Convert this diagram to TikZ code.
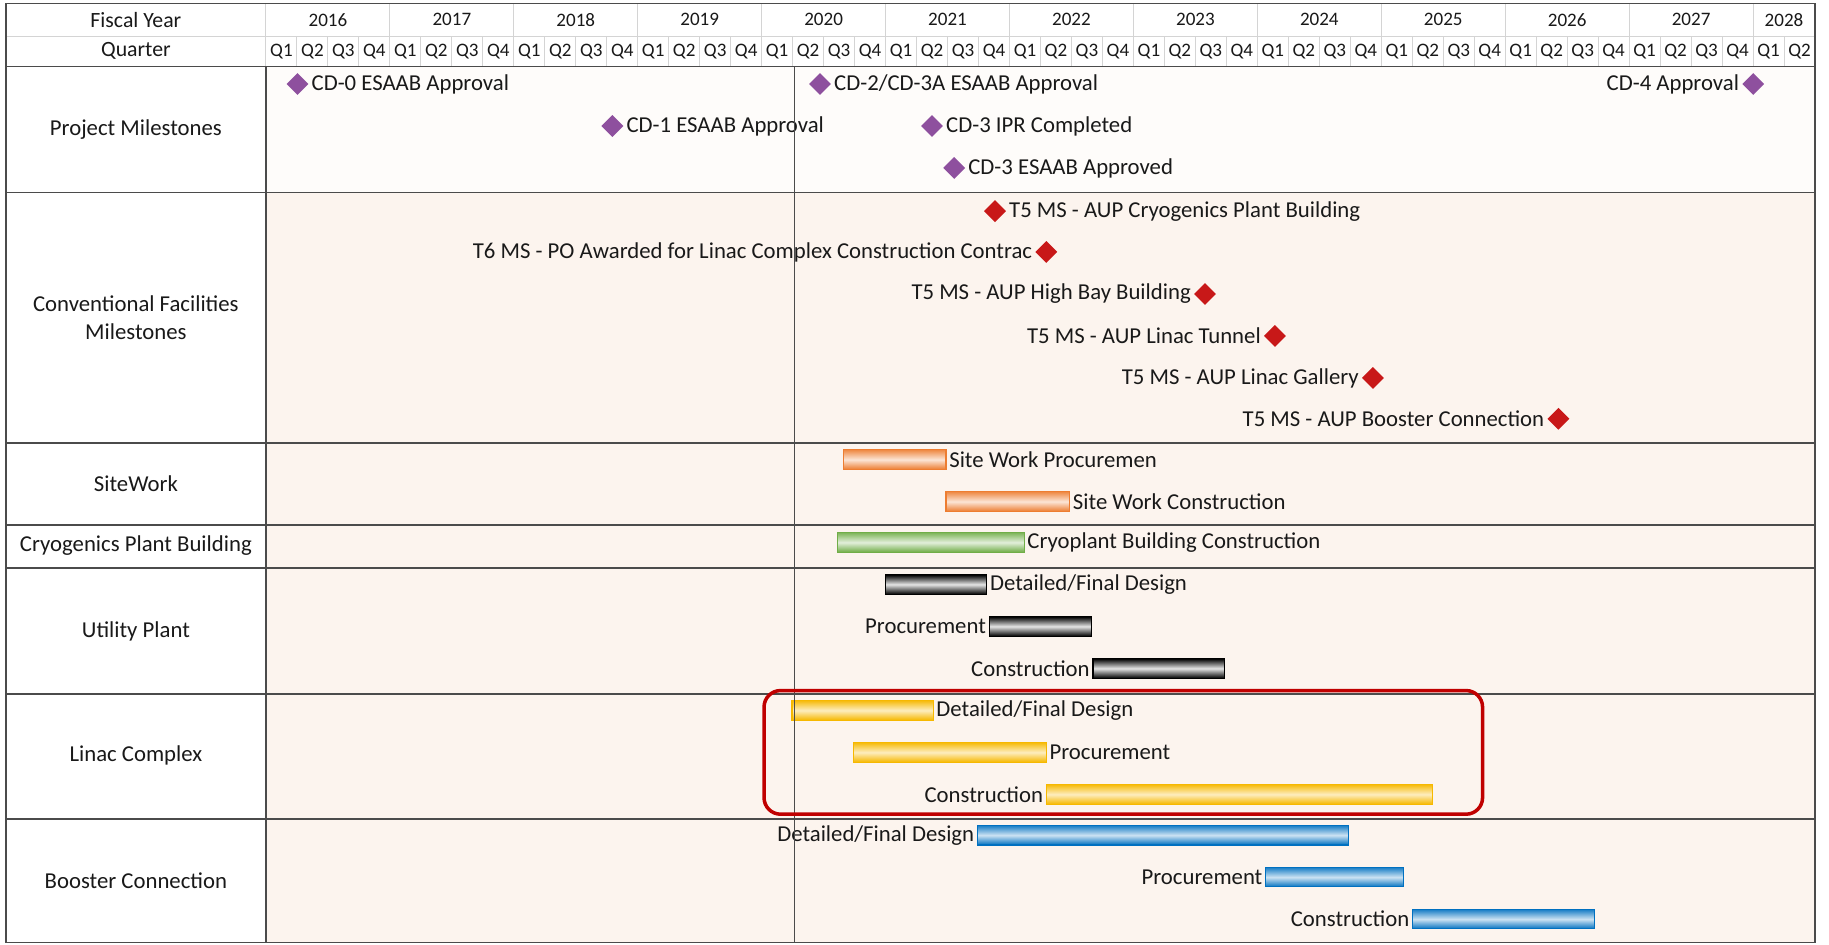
\documentclass[tikz,border=0pt]{standalone}
\usepackage{fontspec}
\setmainfont{Carlito}
\usetikzlibrary{shapes.geometric}
\definecolor{txt}{RGB}{25,25,25}
\definecolor{pm}{RGB}{142,80,158}
\definecolor{cm}{RGB}{200,24,24}
\definecolor{orB}{RGB}{237,125,49}
\definecolor{grB}{RGB}{112,173,71}
\definecolor{yeB}{RGB}{246,184,0}
\definecolor{blB}{RGB}{0,112,192}
\definecolor{hlr}{RGB}{192,0,0}
\definecolor{gdark}{RGB}{75,75,75}
\definecolor{glight}{RGB}{212,212,212}
\definecolor{bgp}{RGB}{252,244,238}
\definecolor{bgw}{RGB}{254,252,250}
\begin{document}
\begin{tikzpicture}[x=0.6pt,y=-0.6pt,
  every node/.style={font=\fontsize{11.7}{14.4}\selectfont, text=txt},
  hdr/.style={font=\fontsize{9.8}{11}\selectfont},
  hdrl/.style={font=\fontsize{11.2}{13}\selectfont},
  rowlbl/.style={align=center},
  pmile/.style={diamond, minimum width=11.4pt, minimum height=11.4pt, inner sep=0pt, fill=pm},
  cmile/.style={diamond, minimum width=11.4pt, minimum height=11.4pt, inner sep=0pt, fill=cm},
  gbar/.style={rectangle, inner sep=0pt, minimum height=10pt, line width=0.6pt},
  obar/.style={gbar, draw=orB, top color=orB!90, bottom color=orB, middle color=orB!20},
  gnbar/.style={gbar, draw=grB, top color=grB!90, bottom color=grB, middle color=grB!20},
  kbar/.style={gbar, draw=black, top color=black, bottom color=black, middle color=white!90!black},
  ybar/.style={gbar, draw=yeB, top color=yeB!95, bottom color=yeB, middle color=yeB!25},
  bbar/.style={gbar, draw=blB, top color=blB!90, bottom color=blB, middle color=blB!20},
  rt/.style={anchor=west, inner sep=1.2pt},
  lt/.style={anchor=east, inner sep=1.2pt},
  darkline/.style={draw=gdark, line width=0.9pt},
  lightline/.style={draw=glight, line width=0.5pt},
  hlbox/.style={draw=hlr, line width=1.8pt, rounded corners=8.5pt, inner sep=0pt}
]
\useasboundingbox (0,0) rectangle (1568,810);
% backgrounds
\fill[white] (0,0) rectangle (1568,810);
\fill[bgw] (228,57) rectangle (1556,165);
\fill[bgp] (228,165) rectangle (1556,808);

% header grid
\foreach \j in {1,...,49}{
  \draw[lightline] ({228+\j*26.56},31) -- ({228+\j*26.56},57);
}
\foreach \j in {1,...,12}{
  \draw[lightline] ({228+\j*106.24},3) -- ({228+\j*106.24},31);
}
\draw[lightline] (5,31) -- (1556,31);
\draw[lightline] (228,3) -- (228,57);

% header text
\node[hdrl] (fy) at (116.5,17) {Fiscal Year};
\node[hdrl] (qt) at (116.5,44) {Quarter};
\foreach \i in {0,...,11}{
  \pgfmathtruncatemacro{\yr}{2016+\i}
  \node[hdr] (y\i) at ({228+(\i*4+2)*26.56},17) {\yr};
}
\node[hdr] (y12) at ({228+49*26.56},17) {2028};
\foreach \j in {0,...,49}{
  \pgfmathtruncatemacro{\qq}{mod(\j,4)+1}
  \node[hdr] (q\j) at ({228+(\j+0.5)*26.56},44) {Q\qq};
}

% row separators and frame
\foreach \yy in {57,165,380,450,487,595,702}{
  \draw[darkline] (5,\yy) -- (1556,\yy);
}
\draw[darkline] (228,57) -- (228,808);
\draw[darkline] (5,3) rectangle (1556,808);

% row labels
\node[rowlbl] (rl1) at (116.5,111) {Project Milestones};
\node[rowlbl] (rl2) at (116.5,272) {Conventional Facilities\\Milestones};
\node[rowlbl] (rl3) at (116.5,415) {SiteWork};
\node[rowlbl] (rl4) at (116.5,468) {Cryogenics Plant Building};
\node[rowlbl] (rl5) at (116.5,541) {Utility Plant};
\node[rowlbl] (rl6) at (116.5,648) {Linac Complex};
\node[rowlbl] (rl7) at (116.5,755) {Booster Connection};

% project milestones
\node[pmile] (cd0) at (255,72) {};
\node[rt] at (cd0.east) {CD-0 ESAAB Approval};
\node[pmile] (cd1) at (525,108) {};
\node[rt] at (cd1.east) {CD-1 ESAAB Approval};
\node[pmile] (cd2) at (703,72) {};
\node[rt] at (cd2.east) {CD-2/CD-3A ESAAB Approval};
\node[pmile] (cd3i) at (799,108) {};
\node[rt] at (cd3i.east) {CD-3 IPR Completed};
\node[pmile] (cd3e) at (818,144) {};
\node[rt] at (cd3e.east) {CD-3 ESAAB Approved};
\node[pmile] (cd4) at (1503,72) {};
\node[lt] at (cd4.west) {CD-4 Approval};

% conventional facilities milestones
\node[cmile] (t1) at (853,181) {};
\node[rt] at (t1.east) {T5 MS - AUP Cryogenics Plant Building};
\node[cmile] (t2) at (897,216) {};
\node[lt] at (t2.west) {T6 MS - PO Awarded for Linac Complex Construction Contrac};
\node[cmile] (t3) at (1033,252) {};
\node[lt] at (t3.west) {T5 MS - AUP High Bay Building};
\node[cmile] (t4) at (1093,288) {};
\node[lt] at (t4.west) {T5 MS - AUP Linac Tunnel};
\node[cmile] (t5) at (1177,324) {};
\node[lt] at (t5.west) {T5 MS - AUP Linac Gallery};
\node[cmile] (t6) at (1336,359) {};
\node[lt] at (t6.west) {T5 MS - AUP Booster Connection};

% sitework
\node[obar, minimum width=52.8pt] (swp) at (767,394) {};
\node[rt] at (swp.east) {Site Work Procuremen};
\node[obar, minimum width=63.6pt] (swc) at (864,430) {};
\node[rt] at (swc.east) {Site Work Construction};
% cryo
\node[gnbar, minimum width=96pt] (cry) at (798,465) {};
\node[rt] at (cry.east) {Cryoplant Building Construction};
% utility
\node[kbar, minimum width=52.2pt] (upd) at (802.5,501) {};
\node[rt] at (upd.east) {Detailed/Final Design};
\node[kbar, minimum width=52.8pt] (upp) at (892,537) {};
\node[lt] at (upp.west) {Procurement};
\node[kbar, minimum width=67.8pt] (upc) at (993.5,573) {};
\node[lt] at (upc.west) {Construction};
% linac
\node[ybar, minimum width=72.6pt] (lcd) at (739.5,609) {};
\node[rt] at (lcd.east) {Detailed/Final Design};
\node[ybar, minimum width=99pt] (lcp) at (814.5,645) {};
\node[rt] at (lcp.east) {Procurement};
\node[ybar, minimum width=198.6pt] (lcc) at (1062.5,681) {};
\node[lt] at (lcc.west) {Construction};
% booster
\node[bbar, minimum width=190.8pt] (bcd) at (997,716) {};
\node[lt] at (bcd.west) {Detailed/Final Design};
\node[bbar, minimum width=70.8pt] (bcp) at (1144,752) {};
\node[lt] at (bcp.west) {Procurement};
\node[bbar, minimum width=93.6pt] (bcc) at (1289,788) {};
\node[lt] at (bcc.west) {Construction};

% today line
\coordinate (tl1) at (681,57);
\coordinate (tl2) at (681,808);
\draw[gdark, line width=0.6pt] (tl1) -- (tl2);

% highlight box
\node[hlbox, minimum width=369.6pt, minimum height=63.6pt] (hl) at (963,645) {};
\end{tikzpicture}
\end{document}
